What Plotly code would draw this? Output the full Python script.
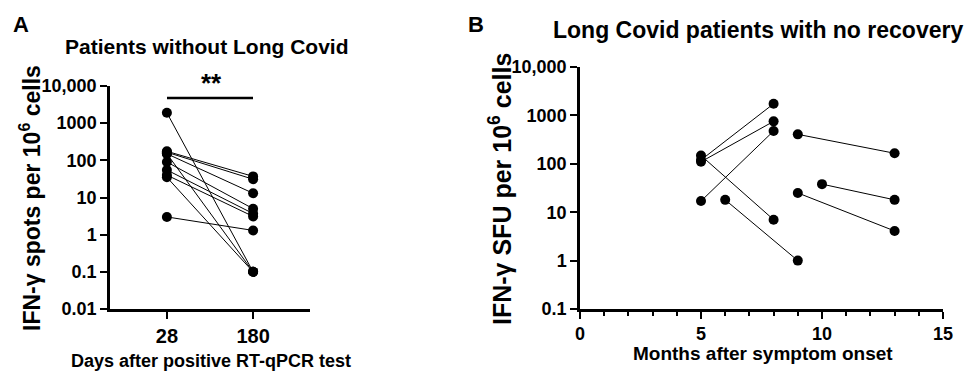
import plotly.graph_objects as go

# ---------------- data ----------------
# Panel A: patients without Long Covid (paired, day 28 vs day 180)
days_labels = ["28", "180"]
a_day28 = [1900, 175, 165, 150, 150, 90, 55, 40, 35, 3]
a_day180 = [0.1, 37, 31, 13, 0.1, 5, 3.7, 3.1, 0.1, 1.3]

# Panel B: Long Covid patients with no recovery (paired timepoints)
b_month_start = [5, 5, 5, 5, 6, 9, 9, 10]
b_month_end = [8, 8, 8, 8, 9, 13, 13, 13]
b_sfu_start = [120, 110, 148, 17, 18, 406, 25, 38]
b_sfu_end = [1740, 753, 7, 476, 1, 165, 4.1, 18]

a_ytickvals = [0.01, 0.1, 1, 10, 100, 1000, 10000]
a_yticktext = ["0.01", "0.1", "1", "10", "100", "1000", "10,000"]
b_ytickvals = [0.1, 1, 10, 100, 1000, 10000]
b_yticktext = ["0.1", "1", "10", "100", "1000", "10,000"]
b_xtickvals = [0, 5, 10, 15]

FONT = "Arial, Liberation Sans, Helvetica, sans-serif"
W, H = 966, 371

fig = go.Figure()

line_style = dict(color="black", width=1)
marker_style = dict(color="black", size=10)

for s, e in zip(a_day28, a_day180):
    fig.add_trace(go.Scatter(x=days_labels, y=[s, e], mode="lines+markers",
                             line=line_style, marker=marker_style,
                             xaxis="x", yaxis="y", showlegend=False,
                             cliponaxis=False))

for ms, me, vs, ve in zip(b_month_start, b_month_end, b_sfu_start, b_sfu_end):
    fig.add_trace(go.Scatter(x=[ms, me], y=[vs, ve], mode="lines+markers",
                             line=line_style, marker=marker_style,
                             xaxis="x2", yaxis="y2", showlegend=False,
                             cliponaxis=False))

def px_x(px):
    return px / W

def px_y(py):
    return (H - py) / H

axis_common = dict(showgrid=False, zeroline=False, showline=True, linecolor="black",
                   linewidth=2.5, ticks="outside", tickcolor="black", tickwidth=2,
                   ticklen=7, automargin=False)

fig.update_layout(
    width=W, height=H,
    margin=dict(l=0, r=0, t=0, b=0, pad=0, autoexpand=False),
    paper_bgcolor="white", plot_bgcolor="white",
    font=dict(family=FONT, color="black"),
    xaxis=dict(domain=[px_x(110), px_x(310)], anchor="y", type="category",
               range=[-0.66, 1.66],
               tickfont=dict(size=20, weight="bold", family=FONT),
               **axis_common),
    yaxis=dict(domain=[px_y(309), px_y(86)], anchor="x", type="log",
               range=[-2, 4], tickvals=a_ytickvals, ticktext=a_yticktext,
               tickfont=dict(size=18, weight="bold", family=FONT),
               **axis_common),
    xaxis2=dict(domain=[px_x(580), px_x(943)], anchor="y2", range=[0, 15],
                tickvals=b_xtickvals,
                tickfont=dict(size=18, weight="bold", family=FONT),
                minor=dict(dtick=1, ticklen=4, tickwidth=2, tickcolor="black",
                           ticks="outside", showgrid=False),
                **axis_common),
    yaxis2=dict(domain=[px_y(309), px_y(67)], anchor="x2", type="log",
                range=[-1, 4], tickvals=b_ytickvals, ticktext=b_yticktext,
                tickfont=dict(size=18, weight="bold", family=FONT),
                **axis_common),
)

def ann(text, x, y, size, angle=0, xanchor="center", yanchor="middle"):
    fig.add_annotation(text=text, x=px_x(x), y=px_y(y), xref="paper", yref="paper",
                       showarrow=False, textangle=angle, xanchor=xanchor,
                       yanchor=yanchor,
                       font=dict(size=size, family=FONT, color="black", weight="bold"))

# panel letters
ann("A", 21, 24, 22)
ann("B", 476, 24, 22)

# titles
ann("Patients without Long Covid", 206, 47, 21)
ann("Long Covid patients with no recovery", 758, 30, 23)

# y-axis titles
ann("IFN-γ spots per 10<sup>6</sup> cells", 30, 198, 23, angle=-90)
ann("IFN-γ SFU per 10<sup>6</sup> cells", 500, 189, 25, angle=-90)

# x-axis titles
ann("Days after positive RT-qPCR test", 211, 361, 18)
ann("Months after symptom onset", 763, 353, 19)

# significance bar
fig.add_shape(type="line", xref="paper", yref="paper",
              x0=px_x(167), x1=px_x(253), y0=px_y(98), y1=px_y(98),
              line=dict(color="black", width=2.5))
ann("**", 211, 83, 26)

fig.write_html("out.html", config={"displayModeBar": False},
               post_script="document.body.style.margin='0';")
